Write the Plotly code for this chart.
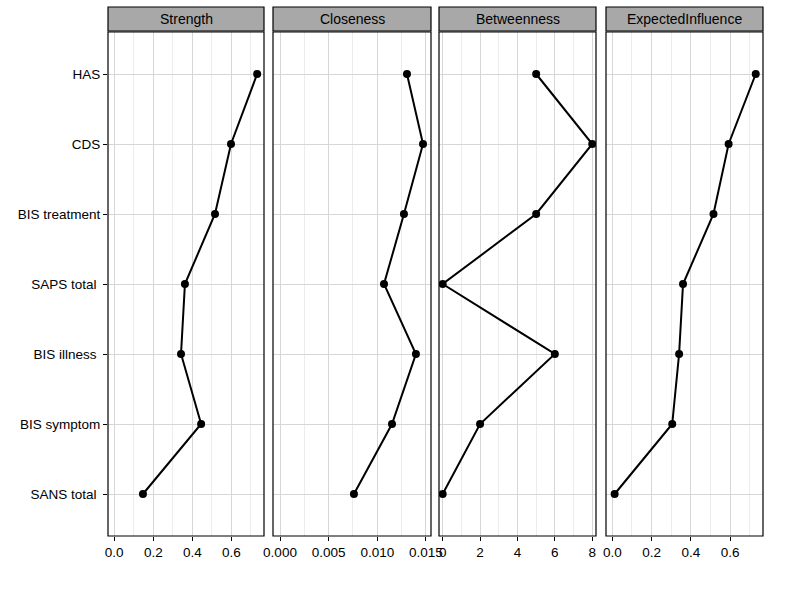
import plotly.graph_objects as go

nodes = ["SANS total\u00a0", "BIS symptom", "BIS illness\u00a0", "SAPS total\u00a0", "BIS treatment", "CDS", "HAS"]
strength = [0.147, 0.445, 0.342, 0.362, 0.516, 0.598, 0.732]
closeness = [0.0076, 0.01151, 0.01397, 0.01069, 0.01274, 0.0147, 0.01305]
betweenness = [0, 2, 6, 0, 5, 8, 5]
expected_influence = [0.012, 0.305, 0.34, 0.36, 0.515, 0.592, 0.730]

panels = ["Strength", "Closeness", "Betweenness", "ExpectedInfluence"]
values = [strength, closeness, betweenness, expected_influence]
xranges = [[-0.032, 0.767], [-0.00072, 0.01552], [-0.196, 8.2], [-0.032, 0.767]]
dticks = [0.2, 0.005, 2, 0.2]
minor_dticks = [0.1, 0.0025, 1, 0.1]
fmts = [".1f", ".3f", "d", ".1f"]

W, H = 797, 611
ml, mr, mt, mb = 108, 34, 32, 75
pw = W - ml - mr
ph = H - mt - mb
px_domains = [(0, 156), (165, 323), (331, 488), (498, 655)]

fig = go.Figure()
font_family = "Liberation Sans, Arial, Helvetica, sans-serif"
tickfont = dict(family=font_family, size=13.5, color="black")

for i, (name, vals) in enumerate(zip(panels, values)):
    xa = "x" if i == 0 else f"x{i+1}"
    ya = "y" if i == 0 else f"y{i+1}"
    d0, d1 = px_domains[i]
    key = "xaxis" if i == 0 else f"xaxis{i+1}"
    fig.update_layout(**{key: dict(
        domain=[d0 / pw, d1 / pw], range=xranges[i], anchor=ya,
        tick0=0, dtick=dticks[i], tickformat=fmts[i],
        showgrid=True, gridcolor="#d6d6d6", gridwidth=1.3,
        minor=dict(dtick=minor_dticks[i], showgrid=True, gridcolor="#ececec", gridwidth=0.7),
        zeroline=False, showline=False,
        ticks="outside", ticklen=4, tickcolor="black", tickwidth=1,
        tickfont=tickfont,
    )})
    ykey = "yaxis" if i == 0 else f"yaxis{i+1}"
    yax = dict(
        range=[-0.6, 6.6], tickmode="array", tickvals=list(range(len(nodes))),
        domain=[0, 1], anchor=xa, showgrid=True, gridcolor="#d6d6d6", gridwidth=1.3,
        zeroline=False, showline=False,
    )
    if i == 0:
        yax.update(ticktext=nodes, ticks="outside", ticklen=4, tickcolor="black",
                   tickfont=tickfont)
    else:
        yax.update(showticklabels=False, matches="y")
    fig.update_layout(**{ykey: yax})

    fig.add_trace(go.Scatter(
        x=vals, y=list(range(len(nodes))), mode="lines+markers",
        line=dict(color="black", width=2),
        marker=dict(color="black", size=8),
        xaxis=xa, yaxis=ya, showlegend=False, text=nodes,
    ))
    # panel border
    fig.add_shape(type="rect", xref="paper", yref="paper",
                  x0=d0 / pw, x1=d1 / pw, y0=0, y1=1,
                  line=dict(color="black", width=1.2), layer="above")
    # strip
    fig.add_shape(type="rect", xref="paper", yref="paper",
                  x0=d0 / pw, x1=d1 / pw, y0=1 + 1 / ph, y1=1 + 25 / ph,
                  fillcolor="#a8a8a8", line=dict(color="black", width=1.2), layer="above")
    fig.add_annotation(text=name, xref="paper", yref="paper",
                       x=(d0 + d1) / 2 / pw, y=1 + 13 / ph, showarrow=False,
                       xanchor="center", yanchor="middle",
                       font=dict(family=font_family, size=14, color="black"))

fig.update_layout(
    width=W, height=H, margin=dict(l=ml, r=mr, t=mt, b=mb),
    paper_bgcolor="white", plot_bgcolor="white",
    font=dict(family=font_family),
)
fig.write_html("out.html")
